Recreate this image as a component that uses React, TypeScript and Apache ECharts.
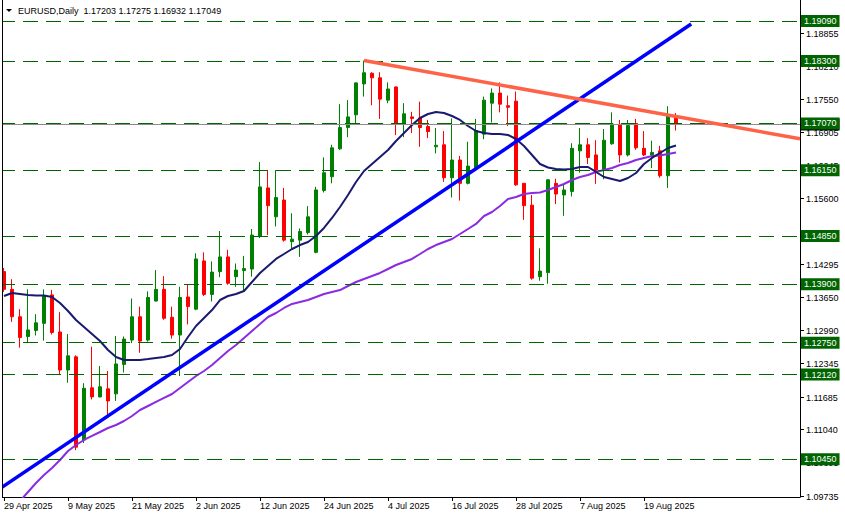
import React, { useEffect, useRef } from 'react';
import * as echarts from 'echarts';

const FONT = '"Liberation Sans", Arial, sans-serif';

const header = 'EURUSD,Daily  1.17203 1.17275 1.16932 1.17049';

const dates = [
  '29 Apr 2025', '30 Apr 2025',
  '1 May 2025', '2 May 2025', '5 May 2025', '6 May 2025', '7 May 2025', '8 May 2025', '9 May 2025',
  '12 May 2025', '13 May 2025', '14 May 2025', '15 May 2025', '16 May 2025', '19 May 2025', '20 May 2025',
  '21 May 2025', '22 May 2025', '23 May 2025', '26 May 2025', '27 May 2025', '28 May 2025', '29 May 2025',
  '30 May 2025',
  '2 Jun 2025', '3 Jun 2025', '4 Jun 2025', '5 Jun 2025', '6 Jun 2025', '9 Jun 2025', '10 Jun 2025',
  '11 Jun 2025', '12 Jun 2025', '13 Jun 2025', '16 Jun 2025', '17 Jun 2025', '18 Jun 2025', '19 Jun 2025',
  '20 Jun 2025', '23 Jun 2025', '24 Jun 2025', '25 Jun 2025', '26 Jun 2025', '27 Jun 2025', '30 Jun 2025',
  '1 Jul 2025', '2 Jul 2025', '3 Jul 2025', '4 Jul 2025', '7 Jul 2025', '8 Jul 2025', '9 Jul 2025',
  '10 Jul 2025', '11 Jul 2025', '14 Jul 2025', '15 Jul 2025', '16 Jul 2025', '17 Jul 2025', '18 Jul 2025',
  '21 Jul 2025', '22 Jul 2025', '23 Jul 2025', '24 Jul 2025', '25 Jul 2025', '28 Jul 2025', '29 Jul 2025',
  '30 Jul 2025', '31 Jul 2025',
  '1 Aug 2025', '4 Aug 2025', '5 Aug 2025', '6 Aug 2025', '7 Aug 2025', '8 Aug 2025', '11 Aug 2025',
  '12 Aug 2025', '13 Aug 2025', '14 Aug 2025', '15 Aug 2025', '18 Aug 2025', '19 Aug 2025', '20 Aug 2025',
  '21 Aug 2025', '22 Aug 2025', '25 Aug 2025',
];

const opens = [
  1.1415, 1.1380, 1.1326, 1.1287, 1.1299, 1.1313, 1.1369, 1.1296, 1.1221, 1.1247,
  1.1083, 1.1186, 1.1168, 1.1184, 1.1174, 1.1232, 1.1280, 1.1326, 1.1280, 1.1357,
  1.1380, 1.1325, 1.1290, 1.1365, 1.1341, 1.1436, 1.1370, 1.1415, 1.1444, 1.1405,
  1.1417, 1.1420, 1.1485, 1.1580, 1.1523, 1.1556, 1.1474, 1.1477, 1.1492, 1.1453,
  1.1575, 1.1602, 1.1657, 1.1699, 1.1724, 1.1785, 1.1806, 1.1797, 1.1753, 1.1779,
  1.1706, 1.1720, 1.1718, 1.1701, 1.1661, 1.1665, 1.1600, 1.1635, 1.1589, 1.1620,
  1.1686, 1.1747, 1.1767, 1.1742, 1.1751, 1.1589, 1.1546, 1.1405, 1.1413, 1.1589,
  1.1566, 1.1573, 1.1653, 1.1665, 1.1645, 1.1615, 1.1667, 1.1705, 1.1645, 1.1707,
  1.1658, 1.1645, 1.1653, 1.1604, 1.17203,
];
const highs = [
  1.1422, 1.1400, 1.1341, 1.1380, 1.1331, 1.1380, 1.1379, 1.1335, 1.1292, 1.1250,
  1.1195, 1.1267, 1.1229, 1.1219, 1.1288, 1.1287, 1.1362, 1.1346, 1.1376, 1.1418,
  1.1406, 1.1346, 1.1385, 1.1390, 1.1451, 1.1453, 1.1435, 1.1495, 1.1458, 1.1431,
  1.1446, 1.1499, 1.1631, 1.1615, 1.1615, 1.1580, 1.1530, 1.1500, 1.1544, 1.1582,
  1.1640, 1.1665, 1.1745, 1.1753, 1.1788, 1.1831, 1.1808, 1.1808, 1.1788, 1.1780,
  1.1747, 1.1730, 1.1750, 1.1714, 1.1698, 1.1692, 1.1717, 1.1643, 1.1671, 1.1716,
  1.1760, 1.1776, 1.1788, 1.1762, 1.1770, 1.1589, 1.1566, 1.1461, 1.1597, 1.1598,
  1.1588, 1.1668, 1.1698, 1.1678, 1.1674, 1.1696, 1.1729, 1.1714, 1.1714, 1.1716,
  1.1692, 1.1673, 1.1663, 1.1741, 1.17275,
];
const lows = [
  1.1375, 1.1316, 1.1265, 1.1274, 1.1289, 1.1279, 1.1291, 1.1211, 1.1196, 1.1063,
  1.1077, 1.1163, 1.1167, 1.1129, 1.1160, 1.1216, 1.1274, 1.1255, 1.1277, 1.1356,
  1.1320, 1.1283, 1.1209, 1.1311, 1.1339, 1.1367, 1.1356, 1.1404, 1.1389, 1.1385,
  1.1375, 1.1405, 1.1481, 1.1487, 1.1504, 1.1474, 1.1459, 1.1444, 1.1488, 1.1451,
  1.1571, 1.1589, 1.1655, 1.1680, 1.1706, 1.1760, 1.1743, 1.1716, 1.1747, 1.1684,
  1.1680, 1.1688, 1.1661, 1.1678, 1.1648, 1.1592, 1.1561, 1.1555, 1.1587, 1.1617,
  1.1676, 1.1709, 1.1729, 1.1702, 1.1584, 1.1517, 1.1399, 1.1397, 1.1391, 1.1548,
  1.1525, 1.1563, 1.1610, 1.1627, 1.1588, 1.1597, 1.1665, 1.1630, 1.1642, 1.1655,
  1.1643, 1.1619, 1.1600, 1.1580, 1.16932,
];
const closes = [
  1.1380, 1.1326, 1.1285, 1.1300, 1.1314, 1.1367, 1.1295, 1.1221, 1.1249, 1.1069,
  1.1185, 1.1168, 1.1188, 1.1160, 1.1233, 1.1282, 1.1326, 1.1278, 1.1364, 1.1380,
  1.1323, 1.1290, 1.1364, 1.1346, 1.1440, 1.1370, 1.1414, 1.1444, 1.1392, 1.1418,
  1.1421, 1.1487, 1.1582, 1.1545, 1.1561, 1.1477, 1.1479, 1.1494, 1.1523, 1.1576,
  1.1610, 1.1659, 1.1699, 1.1720, 1.1787, 1.1807, 1.1797, 1.1755, 1.1775, 1.1706,
  1.1726, 1.1717, 1.1699, 1.1691, 1.1664, 1.1600, 1.1635, 1.1589, 1.1623, 1.1693,
  1.1753, 1.1767, 1.1745, 1.1739, 1.1586, 1.1545, 1.1402, 1.1416, 1.1596, 1.1568,
  1.1576, 1.1658, 1.1665, 1.1640, 1.1615, 1.1674, 1.1706, 1.1645, 1.1703, 1.1659,
  1.1645, 1.1650, 1.1604, 1.1722, 1.17049,
];

// dark navy moving average
const maFast = [
  1.13669, 1.13728, 1.13709, 1.13689, 1.13679, 1.13679, 1.13650, 1.13531, 1.13374, 1.13196,
  1.13058, 1.12920, 1.12782, 1.12605, 1.12467, 1.12408, 1.12408, 1.12408, 1.12427, 1.12447,
  1.12467, 1.12506, 1.12625, 1.12861, 1.13078, 1.13236, 1.13393, 1.13590, 1.13669, 1.13709,
  1.13768, 1.13945, 1.14123, 1.14261, 1.14399, 1.14497, 1.14596, 1.14674, 1.14734, 1.14852,
  1.15010, 1.15207, 1.15424, 1.15660, 1.15916, 1.16133, 1.16271, 1.16409, 1.16547, 1.16725,
  1.16882, 1.17040, 1.17178, 1.17257, 1.17296, 1.17277, 1.17217, 1.17139, 1.17020, 1.16922,
  1.16882, 1.16863, 1.16863, 1.16843, 1.16764, 1.16626, 1.16449, 1.16271, 1.16202, 1.16173,
  1.16163, 1.16173, 1.16212, 1.16212, 1.16114, 1.16015, 1.15976, 1.15936, 1.15995, 1.16094,
  1.16271, 1.16390, 1.16488, 1.16587, 1.16636,
];

// purple moving average
const maSlow = [
  null, null, 1.09628, 1.09806, 1.09983, 1.10141, 1.10279, 1.10436, 1.10614, 1.10732,
  1.10831, 1.10910, 1.10988, 1.11067, 1.11126, 1.11205, 1.11304, 1.11422, 1.11501, 1.11580,
  1.11659, 1.11737, 1.11856, 1.11974, 1.12092, 1.12191, 1.12309, 1.12447, 1.12585, 1.12703,
  1.12841, 1.12979, 1.13117, 1.13255, 1.13334, 1.13433, 1.13512, 1.13551, 1.13590, 1.13650,
  1.13709, 1.13748, 1.13787, 1.13866, 1.13945, 1.14004, 1.14063, 1.14123, 1.14201, 1.14280,
  1.14339, 1.14399, 1.14497, 1.14596, 1.14674, 1.14734, 1.14793, 1.14891, 1.14990, 1.15089,
  1.15246, 1.15325, 1.15443, 1.15581, 1.15621, 1.15680, 1.15700, 1.15709, 1.15759, 1.15818,
  1.15877, 1.15956, 1.16015, 1.16054, 1.16114, 1.16153, 1.16192, 1.16251, 1.16291, 1.16350,
  1.16390, 1.16429, 1.16439, 1.16468, 1.16498,
];

// horizontal levels (green dashed) and their labels
const levels = [1.1909, 1.183, 1.1707, 1.1615, 1.1485, 1.139, 1.1275, 1.1212, 1.1045];
const bidPrice = 1.17049;

// right price scale tick labels
const priceTicks = [
  1.18855, 1.1821, 1.1755, 1.16905, 1.16245, 1.156, 1.1494, 1.14295,
  1.1365, 1.1299, 1.12345, 1.11685, 1.1104, 1.10395, 1.09735,
];

// trend lines: [bar index, price]
const blueTrend = [[-0.5, 1.09874], [85.9, 1.19031]];
const redTrend = [[45, 1.1831], [99.5, 1.16769]];

const FUTURE_SLOTS = 15;
const Y_MIN = 1.097069;
const Y_MAX = 1.19504;

export default function App() {
  const ref = useRef<HTMLDivElement>(null);

  useEffect(() => {
    const el = ref.current as HTMLDivElement;
    const chart = echarts.init(el, null, { renderer: 'svg' });
    const categories = [...dates, ...Array(FUTURE_SLOTS).fill('')];
    const candles = dates.map((_, i) => [opens[i], closes[i], lows[i], highs[i]]);
    const showIdx = (index: number) => index % 8 === 0 && index < dates.length;

    const option: any = {
      animation: false,
      backgroundColor: '#ffffff',
      grid: { left: 0, top: 0, width: 800, height: 497, containLabel: false, outerBoundsMode: 'none' },
      xAxis: [
        {
          type: 'category',
          data: categories,
          boundaryGap: true,
          axisLine: { show: true, onZero: false, lineStyle: { color: '#000', width: 1 } },
          axisTick: { show: true, interval: showIdx, alignWithLabel: true, length: 4, lineStyle: { color: '#000' } },
          axisLabel: {
            show: true, interval: showIdx, align: 'left', margin: 4,
            fontSize: 9, fontFamily: FONT, color: '#000',
          },
          splitLine: { show: false },
        },
        {
          type: 'value',
          min: -0.5,
          max: categories.length - 0.5,
          show: false,
          splitLine: { show: false },
        },
      ],
      yAxis: {
        type: 'value',
        position: 'right',
        min: Y_MIN,
        max: Y_MAX,
        scale: true,
        axisLine: { show: true, onZero: false, lineStyle: { color: '#000', width: 1 } },
        axisTick: { show: false },
        axisLabel: { show: false },
        splitLine: { show: false },
      },
      series: [
        {
          type: 'line',
          xAxisIndex: 1,
          data: [],
          z: 1,
          markLine: {
            silent: true,
            precision: 5,
            symbol: ['none', 'none'],
            lineStyle: { color: '#8c8c8c', type: 'solid', width: 1 },
            label: {
              show: true, position: 'end', distance: 1,
              formatter: (p: any) => Number(p.value).toFixed(5),
              backgroundColor: '#000', color: '#fff', padding: [2, 3, 1, 3],
              fontSize: 9, fontFamily: FONT,
            },
            data: [{ yAxis: bidPrice }],
          },
        },
        {
          type: 'line',
          xAxisIndex: 1,
          data: [],
          z: 1,
          markLine: {
            silent: true,
            precision: 5,
            symbol: ['none', 'none'],
            lineStyle: { color: '#006400', type: [15, 8], width: 1 },
            label: {
              show: true, position: 'end', distance: 1,
              formatter: (p: any) => Number(p.value).toFixed(5),
              backgroundColor: '#006400', color: '#fff', padding: [2, 3, 1, 3],
              fontSize: 9, fontFamily: FONT,
            },
            data: levels.map((v) => ({ yAxis: v })),
          },
        },
        {
          type: 'candlestick',
          xAxisIndex: 0,
          data: candles,
          barWidth: 4,
          z: 3,
          itemStyle: {
            color: '#008000', color0: '#ff0000',
            borderColor: '#008000', borderColor0: '#ff0000', borderWidth: 1,
          },
        },
        {
          type: 'line', xAxisIndex: 0, data: maSlow, showSymbol: false, z: 4,
          lineStyle: { color: '#8a2be2', width: 2 },
        },
        {
          type: 'line', xAxisIndex: 0, data: maFast, showSymbol: false, z: 4,
          lineStyle: { color: '#191970', width: 2 },
        },
        {
          type: 'line', xAxisIndex: 1, data: blueTrend, showSymbol: false, z: 5,
          lineStyle: { color: '#0000ff', width: 3.5 },
        },
        {
          type: 'line', xAxisIndex: 1, data: redTrend, showSymbol: false, z: 5,
          lineStyle: { color: '#ff6347', width: 3.5 },
        },
      ],
    };
    chart.setOption(option);

    const py = (v: number) => chart.convertToPixel({ yAxisIndex: 0 }, v) as number;
    const graphics: any[] = [];
    priceTicks.forEach((v) => {
      const y = Math.round(py(v)) + 0.5;
      graphics.push({
        type: 'line', z: 0,
        shape: { x1: 800, y1: y, x2: 804, y2: y },
        style: { stroke: '#000', lineWidth: 1 },
      });
      graphics.push({
        type: 'text', z: 0, x: 806, y,
        style: { text: v.toFixed(5), fill: '#000', font: `9px ${FONT}`, verticalAlign: 'middle', align: 'left' },
      });
    });
    graphics.push({ type: 'rect', z: 100, shape: { x: 0, y: 0, width: 2, height: 498 }, style: { fill: '#fff' } });
    graphics.push({ type: 'line', z: 101, shape: { x1: 2.5, y1: 0, x2: 2.5, y2: 497.5 }, style: { stroke: '#000', lineWidth: 1 } });
    graphics.push({ type: 'polygon', z: 101, shape: { points: [[6, 9], [12, 9], [9, 12]] }, style: { fill: '#000' } });
    graphics.push({
      type: 'text', z: 101, x: 18, y: 11,
      style: { text: header, fill: '#000', font: `9px ${FONT}`, verticalAlign: 'middle', align: 'left' },
    });
    chart.setOption({ graphic: graphics });

    return () => chart.dispose();
  }, []);

  return (
    <div
      ref={ref}
      style={{ position: 'absolute', left: 0, top: 0, width: 845, height: 519, background: '#fff' }}
    />
  );
}
